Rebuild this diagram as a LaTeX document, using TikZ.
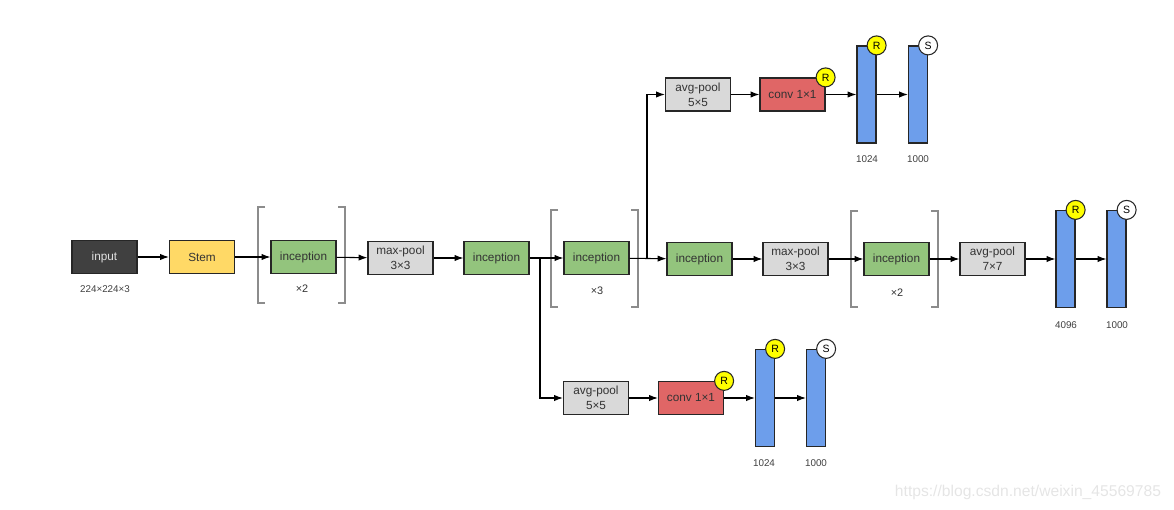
\documentclass[tikz,border=0pt]{standalone}
\usepackage{fontspec}
\setmainfont{Liberation Sans}
\usetikzlibrary{arrows.meta,shadows}
\definecolor{cinput}{HTML}{404040}
\definecolor{cstem}{HTML}{FFD966}
\definecolor{cinc}{HTML}{93C47D}
\definecolor{cpool}{HTML}{D9D9D9}
\definecolor{cconv}{HTML}{E06666}
\definecolor{cfc}{HTML}{6D9EEB}
\definecolor{cR}{HTML}{FFFF00}
\definecolor{ctxt}{HTML}{333333}
\tikzset{
  box/.style={draw=black!85, line width=0.7pt, minimum width=1.3cm, minimum height=0.66cm,
    inner sep=0pt, align=center, font=\fontsize{6.7}{8.4}\selectfont, text=ctxt,
    drop shadow={shadow xshift=0.5pt, shadow yshift=-0.5pt, opacity=0.3}},
  fc/.style={draw=black!85, line width=0.7pt, fill=cfc, minimum width=0.38cm, minimum height=1.94cm,
    inner sep=0pt, drop shadow={shadow xshift=0.5pt, shadow yshift=-0.5pt, opacity=0.3}},
  rc/.style={circle, draw=black!85, line width=0.6pt, fill=cR, minimum size=0.38cm, inner sep=0pt,
    font=\fontsize{6}{6}\selectfont},
  sc/.style={rc, fill=white},
  lbl/.style={font=\fontsize{5.6}{6}\selectfont, text=black!75, inner sep=0pt},
  rep/.style={font=\fontsize{6.2}{6}\selectfont, text=black!80, inner sep=0pt},
  arr/.style={-{Latex[length=5pt,width=3.6pt]}, line width=0.6pt, black},
  bracket/.style={draw=black!45, line width=0.6pt},
}
\begin{document}
\begin{tikzpicture}[x=0.02cm,y=-0.02cm]
\useasboundingbox (0,0) rectangle (1174,510);
% brackets
\draw[bracket] (265,207) -- (258,207) -- (258,303) -- (265,303);
\draw[bracket] (338,207) -- (345,207) -- (345,303) -- (338,303);
\draw[bracket] (558,210) -- (551,210) -- (551,307) -- (558,307);
\draw[bracket] (631,210) -- (638,210) -- (638,307) -- (631,307);
\draw[bracket] (858,211) -- (851,211) -- (851,307) -- (858,307);
\draw[bracket] (931,211) -- (938,211) -- (938,307) -- (931,307);
% main row
\node[box, fill=cinput, text=black!12] (input) at (104.5,257) {input};
\node[box, fill=cstem] (stem) at (202,257) {Stem};
\node[box, fill=cinc] (inc1) at (303.5,257) {inception};
\node[box, fill=cpool] (mp1) at (400.5,258) {max-pool\\3×3};
\node[box, fill=cinc] (inc2) at (496.5,258) {inception};
\node[box, fill=cinc] (inc3) at (596.5,258) {inception};
\node[box, fill=cinc] (inc4) at (699.5,259) {inception};
\node[box, fill=cpool] (mp2) at (795.5,259) {max-pool\\3×3};
\node[box, fill=cinc] (inc5) at (896.5,259) {inception};
\node[box, fill=cpool] (ap3) at (992.5,259) {avg-pool\\7×7};
\node[fc] (fc3a) at (1065.5,259) {};
\node[fc] (fc3b) at (1116.5,259) {};
% top branch
\node[box, fill=cpool] (ap1) at (698,94.5) {avg-pool\\5×5};
\node[box, fill=cconv] (cv1) at (792.5,94.5) {conv 1×1};
\node[fc] (fc1a) at (866.5,94.5) {};
\node[fc] (fc1b) at (918,94.5) {};
% bottom branch
\node[box, fill=cpool] (ap2) at (596,398) {avg-pool\\5×5};
\node[box, fill=cconv] (cv2) at (691,398) {conv 1×1};
\node[fc] (fc2a) at (765,398) {};
\node[fc] (fc2b) at (816,398) {};
% circles
\node[rc] (r1) at (cv1.north east) {R};
\node[rc] (r2) at (fc1a.north east) {R};
\node[sc] (s1) at (fc1b.north east) {S};
\node[rc] (r3) at (fc3a.north east) {R};
\node[sc] (s3) at (fc3b.north east) {S};
\node[rc] (r4) at (cv2.north east) {R};
\node[rc] (r5) at (fc2a.north east) {R};
\node[sc] (s2) at (fc2b.north east) {S};
% labels
\node[lbl] (l0) at (105,289) {224×224×3};
\node[rep] (x1) at (302,289) {×2};
\node[rep] (x2) at (597,291) {×3};
\node[rep] (x3) at (897,293) {×2};
\node[lbl] (l1) at (867,159) {1024};
\node[lbl] (l2) at (918,159) {1000};
\node[lbl] (l3) at (1066,325) {4096};
\node[lbl] (l4) at (1117,325) {1000};
\node[lbl] (l5) at (764,463) {1024};
\node[lbl] (l6) at (816,463) {1000};
% connectors
\draw[arr] (input) -- (stem);
\draw[arr] (stem) -- (inc1);
\draw[arr] (inc1) -- (mp1);
\draw[arr] (mp1) -- (inc2);
\draw[arr] (inc2) -- (inc3);
\draw[arr] (inc3) -- (inc4);
\draw[arr] (inc4) -- (mp2);
\draw[arr] (mp2) -- (inc5);
\draw[arr] (inc5) -- (ap3);
\draw[arr] (ap3) -- (fc3a);
\draw[arr] (fc3a) -- (fc3b);
\coordinate (j1) at (540,258);
\coordinate (j2) at (647,258.5);
\draw[arr] (j1) |- (ap2);
\draw[arr] (j2) |- (ap1);
\draw[arr] (ap1) -- (cv1);
\draw[arr] (cv1) -- (fc1a);
\draw[arr] (fc1a) -- (fc1b);
\draw[arr] (ap2) -- (cv2);
\draw[arr] (cv2) -- (fc2a);
\draw[arr] (fc2a) -- (fc2b);
% watermark
\node[font=\fontsize{8.9}{9}\selectfont, text=black!10, inner sep=0pt] (wm) at (1028,492) {https://blog.csdn.net/weixin\_45569785};
\end{tikzpicture}
\end{document}
